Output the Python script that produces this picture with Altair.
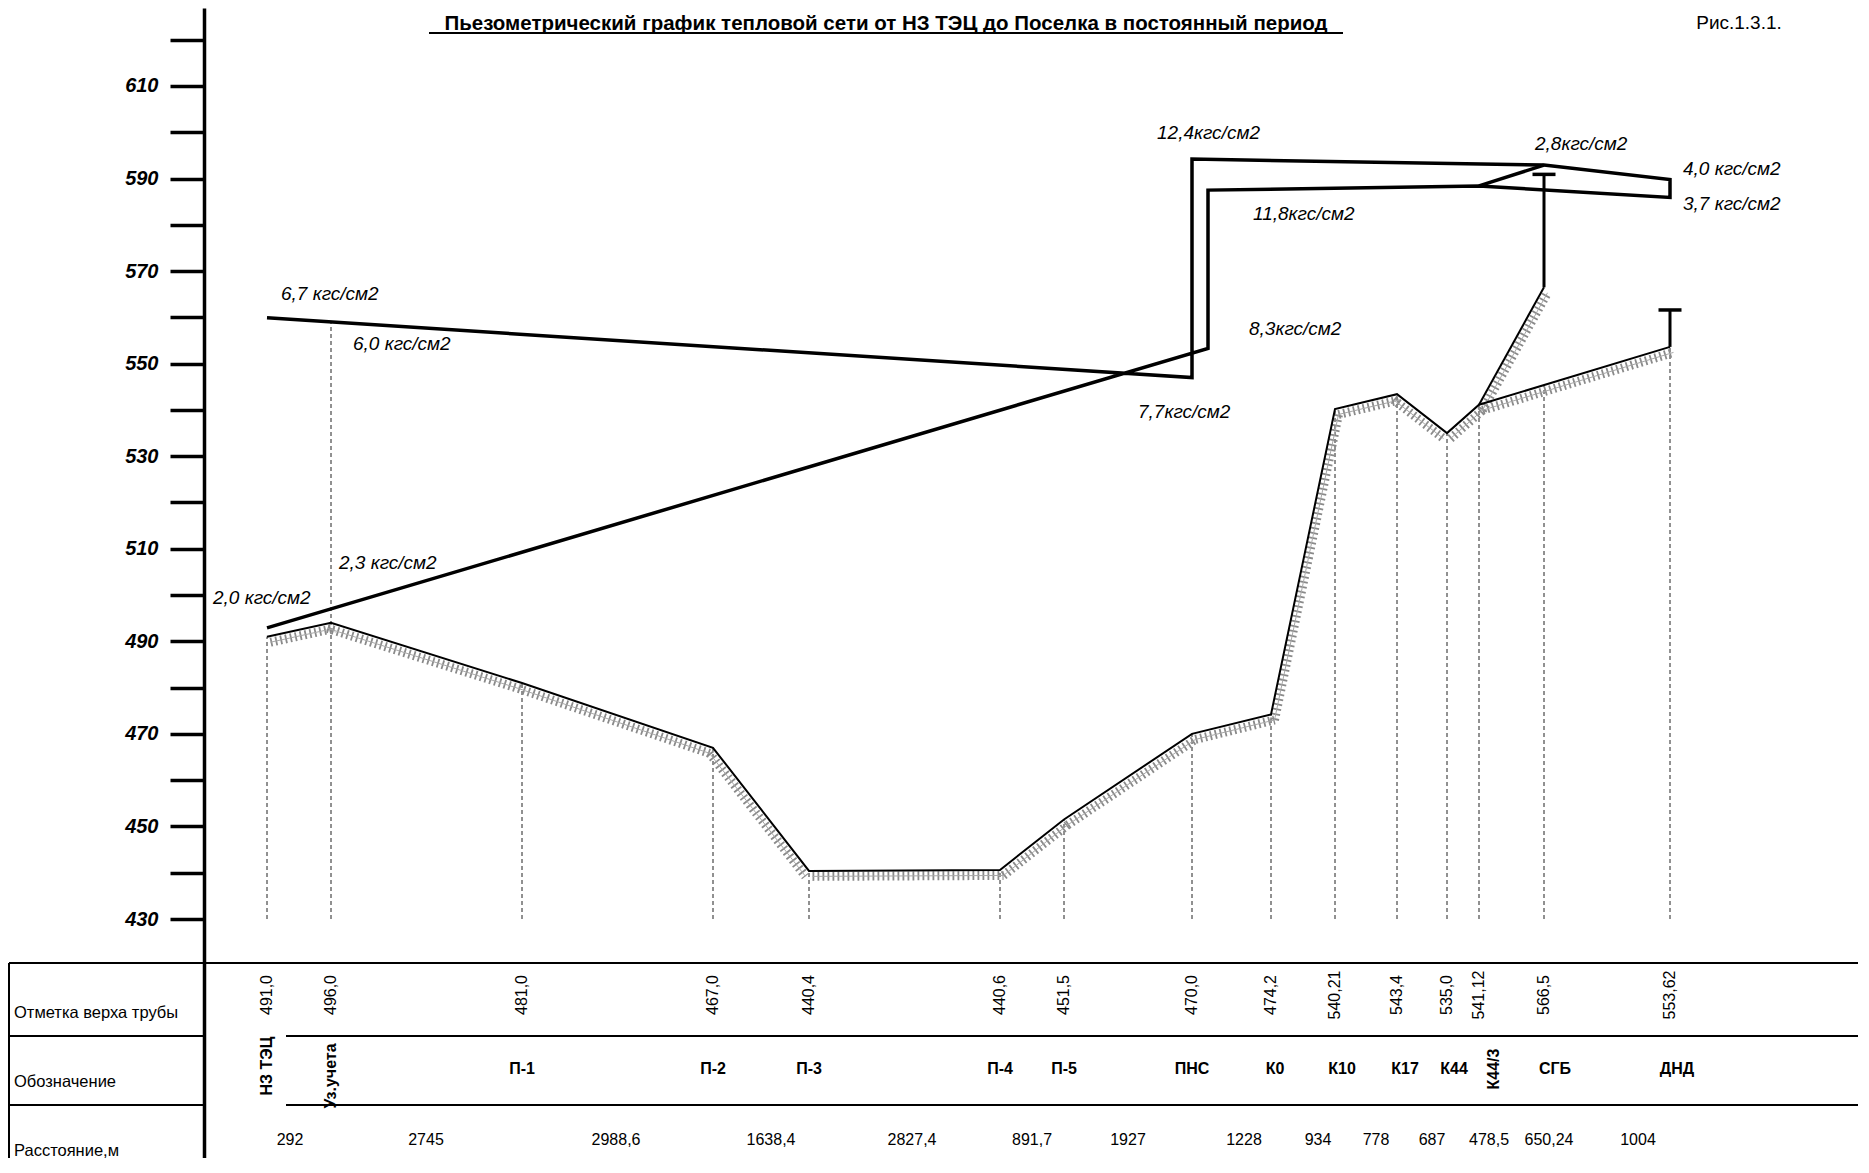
import altair as alt
import pandas as pd
import numpy as np

FONT = "Liberation Sans"

# ---------------- data ----------------
stations = ["НЗ ТЭЦ", "Уз.учета", "П-1", "П-2", "П-3", "П-4", "П-5", "ПНС",
            "К0", "К10", "К17", "К44", "К44/3", "СГБ", "ДНД"]
# schematic position along the (not-to-scale) profile drawing
station_pos = [63, 127, 318, 509, 605, 796, 860, 988, 1067, 1131, 1193, 1243, 1275, 1340, 1466]
pipe_top_labels = ["491,0", "496,0", "481,0", "467,0", "440,4", "440,6", "451,5", "470,0",
                   "474,2", "540,21", "543,4", "535,0", "541,12", "566,5", "553,62"]
profile_elev = [491.0, 494.0, 481.0, 467.0, 440.4, 440.6, 451.5, 470.0,
                474.2, 540.21, 543.4, 535.0, 541.12, 566.5, 553.62]
desig_pos = [63, 127, 318, 509, 605, 796, 860, 988, 1071, 1138, 1201, 1250, 1290, 1351, 1473]
rotated_desig = ["НЗ ТЭЦ", "Уз.учета", "К44/3"]

distances = ["292", "2745", "2988,6", "1638,4", "2827,4", "891,7", "1927", "1228",
             "934", "778", "687", "478,5", "650,24", "1004"]
distance_pos = [86, 222, 412, 567, 708, 828, 924, 1040, 1114, 1172, 1228, 1285, 1345, 1434]

# piezometric loop: supply ТЭЦ -> ПНС -> pump -> ДНД -> return -> ПНС -> ТЭЦ
loop_x = [63, 988, 988, 1340, 1466, 1466, 1275, 1004, 1004, 63]
loop_v = [559.9, 547.0, 594.2, 592.9, 589.8, 585.9, 588.4, 587.5, 553.3, 492.9]
# branch to СГБ
branch_x = [1275, 1340]
branch_v = [588.4, 592.9]

# building-height markers (T)
marker_x = [1340, 1466]
marker_top = [590.9, 561.6]
marker_bottom = [566.5, 553.62]

press_labels = ["6,7 кгс/см2", "6,0 кгс/см2", "2,3 кгс/см2", "2,0 кгс/см2", "12,4кгс/см2",
                "11,8кгс/см2", "8,3кгс/см2", "7,7кгс/см2", "2,8кгс/см2", "4,0 кгс/см2", "3,7 кгс/см2"]
press_lab_x = [77, 149, 135, 9, 953, 1049, 1045, 934, 1331, 1479, 1479]
press_lab_v = [565.0, 554.25, 506.9, 499.3, 599.8, 582.3, 557.4, 539.6, 597.5, 592.0, 584.5]

row_titles = ["Отметка верха трубы", "Обозначение", "Расстояние,м"]
title_text = "Пьезометрический график тепловой сети от НЗ ТЭЦ до Поселка в постоянный период"
fig_text = "Рис.1.3.1."

# ---------------- scales ----------------
W, H = 1654, 1150
xscale = alt.Scale(domain=[0, W], range=[0, W], nice=False, zero=False)
yscale = alt.Scale(domain=[378.36, 626.85], nice=False, zero=False)
yaxis = alt.Axis(values=list(range(430, 621, 10)), format="d",
                 labelExpr="datum.value % 20 == 10 ? datum.label : ''",
                 tickSize=34, tickWidth=3.5, tickColor="black",
                 domainColor="black", domainWidth=3.5,
                 labelFont=FONT, labelFontSize=20, labelFontWeight="bold",
                 labelFontStyle="italic", labelColor="black", labelPadding=12,
                 labelOverlap=False, grid=False, title=None)
X = alt.X("x:Q", scale=xscale, axis=None)
Y = alt.Y("v:Q", scale=yscale, axis=yaxis)

# ---------------- frames ----------------
main_idx = [i for i in range(len(stations)) if stations[i] != "СГБ"]
paths = [main_idx, [12, 13]]
prof_rows, seg_rows = [], []
seg = 0
for p, path in enumerate(paths):
    for k, i in enumerate(path):
        prof_rows.append({"x": station_pos[i], "v": profile_elev[i], "i": k, "s": p})
    for a, b in zip(path[:-1], path[1:]):
        d = "up" if profile_elev[b] >= profile_elev[a] else "down"
        seg_rows.append({"x": station_pos[a], "v": profile_elev[a], "i": 0, "s": seg, "d": d})
        seg_rows.append({"x": station_pos[b], "v": profile_elev[b], "i": 1, "s": seg, "d": d})
        seg += 1
prof_df = pd.DataFrame(prof_rows)
seg_df = pd.DataFrame(seg_rows)

press_df = pd.DataFrame(
    [{"x": x, "v": v, "i": k, "s": "loop"} for k, (x, v) in enumerate(zip(loop_x, loop_v))] +
    [{"x": x, "v": v, "i": k, "s": "branch"} for k, (x, v) in enumerate(zip(branch_x, branch_v))]
)

dash_top = list(profile_elev)
dash_top[1] = float(np.interp(station_pos[1], loop_x[:2], loop_v[:2]))
dash_top[13] = float(np.interp(station_pos[13], [station_pos[12], station_pos[14]],
                               [profile_elev[12], profile_elev[14]]))
dash_df = pd.DataFrame({"x": station_pos, "v": [430] * len(stations), "v2": dash_top})

marker_df = pd.DataFrame({"x": marker_x, "v": marker_top, "v2": marker_bottom})
plab_df = pd.DataFrame({"x": press_lab_x, "v": press_lab_v, "t": press_labels})

elev_df = pd.DataFrame({"x": station_pos, "t": pipe_top_labels})
desig_df = pd.DataFrame({"x": desig_pos, "t": stations})
flat_df = desig_df[~desig_df["t"].isin(rotated_desig)]
rot_df = desig_df[desig_df["t"].isin(rotated_desig)]
dist_df = pd.DataFrame({"x": distance_pos, "t": distances})

one = pd.DataFrame({"a": [0]})

# ---------------- layers ----------------
layers = []

# station dashed lines
layers.append(alt.Chart(dash_df).mark_rule(color="#222222", strokeWidth=1, strokeDash=[4, 3])
              .encode(x=X, y=Y, y2=alt.Y2("v2:Q")))

# cross-hatching under the ground/pipe profile
for d, xo in [("up", 3.5), ("down", -3.5)]:
    sub = seg_df[seg_df["d"] == d]
    layers.append(alt.Chart(sub).mark_line(color="#8a8a8a", strokeWidth=9, strokeDash=[1.8, 3.2],
                                           yOffset=5.5, xOffset=xo)
                  .encode(x=X, y=Y, detail="s:N", order="i:Q"))
    layers.append(alt.Chart(sub).mark_line(color="#a8a8a8", strokeWidth=1, yOffset=5.5, xOffset=xo)
                  .encode(x=X, y=Y, detail="s:N", order="i:Q"))
# profile line
layers.append(alt.Chart(prof_df).mark_line(color="black", strokeWidth=2)
              .encode(x=X, y=Y, detail="s:N", order="i:Q"))

# piezometric lines
layers.append(alt.Chart(press_df).mark_line(color="black", strokeWidth=3.5, strokeJoin="miter", strokeCap="butt")
              .encode(x=X, y=Y, detail="s:N", order="i:Q"))

# T markers
layers.append(alt.Chart(marker_df).mark_rule(color="black", strokeWidth=3)
              .encode(x=X, y=Y, y2=alt.Y2("v2:Q")))
layers.append(alt.Chart(marker_df).mark_tick(orient="horizontal", color="black", size=23, thickness=3.5, opacity=1)
              .encode(x=X, y=Y))

# pressure labels
layers.append(alt.Chart(plab_df).mark_text(font=FONT, fontSize=19, fontStyle="italic", align="left",
                                           baseline="middle", color="black")
              .encode(x=X, y=Y, text="t:N"))

# ---------------- table ----------------
def hrule(x1, x2, y, w=2):
    return alt.Chart(one).mark_rule(color="black", strokeWidth=w).encode(
        x=alt.value(x1), x2=alt.value(x2), y=alt.value(y))

layers.append(hrule(-195, W, 955))
layers.append(hrule(-195, 0, 1028))
layers.append(hrule(82, W, 1028))
layers.append(hrule(-195, 0, 1097))
layers.append(hrule(82, W, 1097))
layers.append(alt.Chart(one).mark_rule(color="black", strokeWidth=2).encode(
    x=alt.value(-195), y=alt.value(955), y2=alt.value(H)))

row_df = pd.DataFrame({"t": row_titles, "r": [0, 1, 2]})
for k, yy in enumerate([1005, 1074, 1143]):
    layers.append(alt.Chart(row_df[row_df["r"] == k]).mark_text(
        font=FONT, fontSize=16.5, align="left", baseline="middle", color="black")
        .encode(x=alt.value(-190), y=alt.value(yy), text="t:N"))

layers.append(alt.Chart(elev_df).mark_text(font=FONT, fontSize=16, angle=270, align="center",
                                           baseline="middle", color="black")
              .encode(x=X, y=alt.value(987), text="t:N"))
layers.append(alt.Chart(flat_df).mark_text(font=FONT, fontSize=16, fontWeight="bold", align="center",
                                           baseline="middle", color="black")
              .encode(x=X, y=alt.value(1061), text="t:N"))
for name, yy in zip(rotated_desig, [1058, 1068, 1061]):
    layers.append(alt.Chart(rot_df[rot_df["t"] == name]).mark_text(
        font=FONT, fontSize=16, fontWeight="bold", angle=270, align="center",
        baseline="middle", color="black")
        .encode(x=X, y=alt.value(yy), text="t:N"))
layers.append(alt.Chart(dist_df).mark_text(font=FONT, fontSize=16, align="center",
                                           baseline="middle", color="black")
              .encode(x=X, y=alt.value(1132), text="t:N"))

# ---------------- heading (underlined) and figure number ----------------
head_df = pd.DataFrame({"t": [title_text]})
fig_df = pd.DataFrame({"t": [fig_text]})
layers.append(alt.Chart(head_df).mark_text(font=FONT, fontSize=20.5, fontWeight="bold", align="center",
                                           baseline="alphabetic", color="black")
              .encode(x=alt.value(682), y=alt.value(22), text="t:N"))
layers.append(alt.Chart(one).mark_rule(color="black", strokeWidth=2).encode(
    x=alt.value(225), x2=alt.value(1139), y=alt.value(25)))
layers.append(alt.Chart(fig_df).mark_text(font=FONT, fontSize=19, align="center",
                                          baseline="alphabetic", color="black")
              .encode(x=alt.value(1535), y=alt.value(21), text="t:N"))

chart = alt.layer(*layers).properties(
    width=W, height=H,
    padding={"left": 196, "top": 0, "right": 0, "bottom": 0},
    autosize=alt.AutoSizeParams(type="none"),
    background="white",
).configure_view(stroke=None)

chart.save("out.html", embed_options={"renderer": "svg", "actions": False})
